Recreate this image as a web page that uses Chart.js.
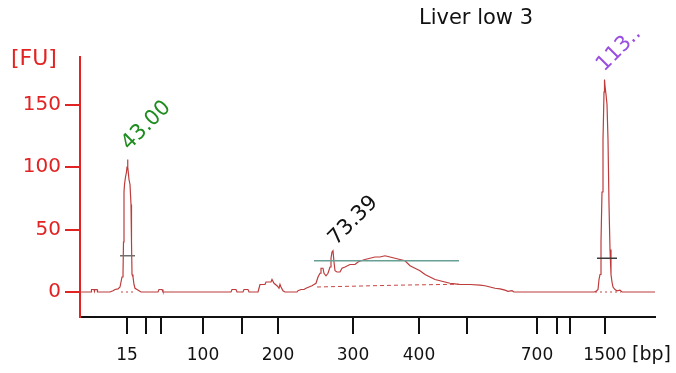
<!DOCTYPE html>
<html lang="en">
<head>
    <title>Liver low 3</title>
    <meta name="viewport" content="width=device-width, initial-scale=1.0" charset="UTF-8">
    <script src="https://cdn.jsdelivr.net/npm/chart.js@4.4.1/dist/chart.umd.min.js"></script>
    <style>
        body {margin:0;padding:0;background:#fff;}
        #wrap {width:676px;height:373px;}
    </style>
</head>
<body>
<div id="wrap"><canvas id="traceChart" width="676" height="373"></canvas></div>
<script>
    // ladder: size in bp and migration time (s)
    const ladderBp = [15, 25, 50, 100, 150, 200, 300, 400, 500, 700, 850, 1000, 1500];
    const ladderTime = [44.7, 46.6, 48.1, 52.3, 56.2, 59.8, 67.3, 73.9, 78.7, 85.7, 87.7, 89.0, 92.5];
    const labeledBp = [15, 100, 200, 300, 400, 700, 1500];
    const fuTicks = [0, 50, 100, 150];

    // electropherogram trace
    const traceTime = [40.0, 41.1, 41.15, 41.4, 41.45, 41.5, 41.7, 41.75, 43.0, 43.3, 43.5, 43.8, 44.0, 44.1, 44.2, 44.3,
        44.35, 44.4, 44.45, 44.55, 44.65, 44.7, 44.75, 44.8, 44.9, 45.0, 45.1, 45.15, 45.2, 45.3, 45.4, 45.5, 45.7, 45.9, 46.1,
        47.8, 47.9, 48.2, 48.3, 55.1, 55.2, 55.6, 55.7, 56.3, 56.4, 56.8, 56.9,
        57.8, 57.9, 58.0, 58.5, 58.6, 59.1, 59.2, 59.4, 59.7, 59.9, 60.0, 60.1, 60.3, 60.5,
        61.7, 61.8, 62.1, 62.4, 62.6, 62.9, 63.2, 63.4, 63.6, 63.8, 64.0, 64.1, 64.3, 64.4, 64.6, 64.8, 65.0, 65.1, 65.2, 65.3,
        65.4, 65.5, 65.7, 66.0, 66.2, 66.5, 67.0, 67.5, 67.8, 68.1, 68.5, 69.0, 69.5, 70.0, 70.5, 71.0, 71.5, 72.0, 72.5,
        73.0, 73.5, 74.0, 74.5, 75.0, 75.5, 76.0, 76.5, 77.0, 77.5, 78.0, 79.0, 80.0, 80.5, 81.0, 81.5, 82.0, 82.5, 82.8,
        83.2, 83.4, 91.4, 91.6, 91.8, 91.9, 92.0, 92.1, 92.2, 92.3, 92.35, 92.4, 92.45, 92.5, 92.6, 92.7, 92.8, 92.9, 93.0,
        93.1, 93.2, 93.3, 93.5, 93.7, 94.0, 94.2, 97.5];
    const traceFU = [0, 0, 2, 2, 0.5, 2, 2, 0, 0, 1, 2, 2.5, 4, 8, 12, 14,
        40, 80, 86, 92, 96, 100, 106, 100, 90, 86, 70, 40, 14, 12, 6, 3, 2, 1, 0,
        0, 2, 2, 0, 0, 2, 2, 0, 0, 2, 2, 0,
        0, 3, 6, 6, 8, 8, 10, 7, 5, 3, 6, 4, 1, 0,
        0, 1, 2, 2, 3, 4, 5, 6, 7, 12, 15, 19, 19, 15, 13, 15, 20, 27, 32, 33,
        24, 17, 16, 16, 19, 20, 22, 22, 24, 25, 26, 27, 28, 28, 29, 28, 27, 26, 25,
        21, 19, 17, 14, 12, 10, 9, 8, 7, 6.5, 6, 6, 5.5, 5, 4, 3, 2.5, 1.5, 0.5,
        1, 0, 0, 0.5, 2, 10, 14, 40, 80, 122, 140, 160, 170, 165, 158, 150, 122, 70, 34,
        14, 8, 4, 2, 1, 1.5, 0, 0];

    // smear region and its baseline
    const regionTime = [63.4, 77.9];
    const regionFU = [25, 25];
    const regionBaseTime = [63.7, 72.0, 77.9];
    const regionBaseFU = [4, 5.5, 6.2];

    // marker peaks
    const lowerMarkTime = [44.0, 45.5];
    const lowerMarkFU = [29, 29];
    const upperMarkTime = [91.7, 93.7];
    const upperMarkFU = [27, 27];
    const lowerBaseTime = [44.1, 45.4];
    const upperBaseTime = [91.5, 94.1];

    // peak annotations
    const peakLabels = ['43.00', '73.39', '113..'];
    const peakLabelTime = [44.9, 65.6, 92.4];
    const peakLabelFU = [113, 37, 176];
    const peakLabelColors = ['#1e8c1e', '#111111', '#9a4fe0'];

    const red = 'rgb(225,35,35)';
    const xy = (xs, ys) => xs.map((v, i) => ({x: v, y: ys[i]}));

    const textPlugin = {
        id: 'texts',
        afterDraw(chart) {
            const {ctx, scales: {x, y}} = chart;
            ctx.save();
            ctx.fillStyle = '#111';
            ctx.font = '21px "DejaVu Sans"';
            ctx.textAlign = 'center';
            ctx.textBaseline = 'middle';
            ctx.fillText('Liver low 3', 476, 19);

            ctx.fillStyle = red;
            ctx.textAlign = 'left';
            ctx.font = '22px "DejaVu Sans"';
            ctx.fillText('[FU]', 11, 59);

            ctx.fillStyle = '#111';
            ctx.font = '19px "DejaVu Sans"';
            ctx.fillText('[bp]', 632, 355);

            ctx.font = '21px "DejaVu Sans"';
            ctx.textBaseline = 'alphabetic';
            peakLabels.forEach((t, i) => {
                ctx.save();
                ctx.translate(x.getPixelForValue(peakLabelTime[i]), y.getPixelForValue(peakLabelFU[i]));
                ctx.rotate(-Math.PI / 4);
                ctx.fillStyle = peakLabelColors[i];
                ctx.fillText(t, 0, 0);
                ctx.restore();
            });
            ctx.restore();
        }
    };

    const line = (data, color, extra) => Object.assign({
        data: data, borderColor: color, borderWidth: 1, pointRadius: 0, showLine: true, tension: 0, fill: false
    }, extra || {});

    let ctx = document.getElementById('traceChart');
    let traceChart = new Chart(ctx, {
        type: 'scatter',
        data: {
            datasets: [
                line(xy(regionTime, regionFU), 'rgb(105,160,150)', {borderWidth: 1.5}),
                line(xy(regionBaseTime, regionBaseFU), 'rgb(200,70,70)', {borderDash: [4, 3]}),
                line(xy(lowerBaseTime, [0, 0]), 'rgb(200,70,70)', {borderDash: [2, 3]}),
                line(xy(upperBaseTime, [0, 0]), 'rgb(200,70,70)', {borderDash: [2, 3]}),
                line(xy(lowerMarkTime, lowerMarkFU), 'rgb(110,110,110)', {borderWidth: 1.5}),
                line(xy(upperMarkTime, upperMarkFU), 'rgb(60,60,60)', {borderWidth: 1.5}),
                line(xy(traceTime, traceFU), 'rgb(190,60,60)', {borderWidth: 1.2})
            ]
        },
        options: {
            responsive: false,
            animation: false,
            layout: {padding: {top: 57, right: 21, left: 0, bottom: 0}},
            plugins: {legend: {display: false}, tooltip: {enabled: false}},
            scales: {
                x: {
                    type: 'linear',
                    min: 40,
                    max: 97.5,
                    afterFit: (s) => { s.height = 56; },
                    afterBuildTicks: (s) => { s.ticks = ladderTime.map(v => ({value: v})); },
                    border: {color: '#111', width: 2},
                    grid: {drawOnChartArea: false, drawTicks: true, tickLength: 17, color: '#111', lineWidth: 2},
                    ticks: {
                        autoSkip: false,
                        maxRotation: 0,
                        padding: 11,
                        color: '#111',
                        font: {family: 'DejaVu Sans', size: 17},
                        callback: (v) => {
                            const i = ladderTime.indexOf(v);
                            return (i >= 0 && labeledBp.includes(ladderBp[i])) ? String(ladderBp[i]) : '';
                        }
                    }
                },
                y: {
                    min: -20,
                    max: 188,
                    afterFit: (s) => { s.width = 80; },
                    afterBuildTicks: (s) => { s.ticks = fuTicks.map(v => ({value: v})); },
                    border: {color: red, width: 2},
                    grid: {drawOnChartArea: false, drawTicks: true, tickLength: 15, color: red, lineWidth: 2},
                    ticks: {padding: 4, color: red, font: {family: 'DejaVu Sans', size: 20}}
                }
            }
        },
        plugins: [textPlugin]
    });
</script>
</body>
</html>
